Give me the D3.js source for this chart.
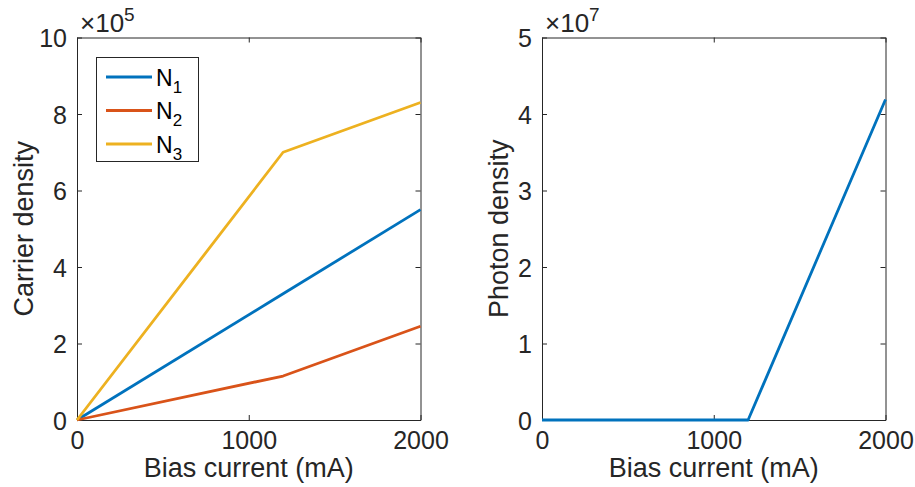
<!DOCTYPE html>
<html><head><meta charset="utf-8">
<script src="https://cdn.jsdelivr.net/npm/d3@7"></script>
<style>
html,body{margin:0;padding:0;background:#fff;}
svg{display:block;font-family:"Liberation Sans",Arial,Helvetica,sans-serif;}
</style></head>
<body><svg id="c" width="915" height="487"></svg>
<script>
// ---- data ----
const current = [0, 1200, 2000];
const n1 = [0, 3.3e5, 5.5e5];
const n2 = [0, 1.15e5, 2.45e5];
const n3 = [0, 7.0e5, 8.3e5];
const photon = [0, 0, 4.19e7];
const xTicks = [0, 1000, 2000];
const yTicksLeft = [0, 2, 4, 6, 8, 10];
const yTicksRight = [0, 1, 2, 3, 4, 5];
const seriesNames = ["N1", "N2", "N3"];
const colors = ["#0072BD", "#D95319", "#EDB120"];

const svg = d3.select("#c");
const ink = "#262626";

function panel(x0, x1, yMax, scaleExp, yTicks, yLabel, labelOff, lines) {
  const top = 37.5, bottom = 420;
  const x = d3.scaleLinear().domain([0, 2000]).range([x0, x1]);
  const y = d3.scaleLinear().domain([0, yMax]).range([bottom, top]);
  const g = svg.append("g");
  const tl = 5;
  const ax = g.append("g").attr("transform", `translate(0,${bottom})`)
    .call(d3.axisBottom(x).tickValues(xTicks).tickSizeInner(-tl).tickSizeOuter(0).tickPadding(11).tickFormat(d3.format("d")));
  const axT = g.append("g").attr("transform", `translate(0,${top})`)
    .call(d3.axisTop(x).tickValues(xTicks).tickSizeInner(-tl).tickSizeOuter(0).tickFormat(""));
  const ay = g.append("g").attr("transform", `translate(${x0},0)`)
    .call(d3.axisLeft(y).tickValues(yTicks).tickSizeInner(-tl).tickSizeOuter(0).tickPadding(10).tickFormat(d3.format("d")));
  const ayR = g.append("g").attr("transform", `translate(${x1},0)`)
    .call(d3.axisRight(y).tickValues(yTicks).tickSizeInner(-tl).tickSizeOuter(0).tickFormat(""));
  [ax, axT, ay, ayR].forEach(a => {
    a.selectAll("path").attr("stroke", ink).attr("stroke-width", 1);
    a.selectAll("line").attr("stroke", ink).attr("stroke-width", 1);
    a.selectAll("text").attr("fill", ink).attr("font-size", 25).attr("font-family", "Liberation Sans, Arial, sans-serif");
  });
  ax.selectAll("text").attr("dy", "0.71em");
  ay.selectAll("text").attr("dy", "0.36em");
  const line = d3.line().x(d => x(d[0])).y(d => y(d[1]));
  lines.forEach((ln) => {
    g.append("path").datum(current.map((c, k) => [c, ln.values[k] / Math.pow(10, scaleExp)]))
      .attr("d", line).attr("fill", "none").attr("stroke", ln.color)
      .attr("stroke-width", 2.8).attr("stroke-linejoin", "round");
  });
  const ex = g.append("text").attr("x", x0 + 3).attr("y", 32).attr("fill", ink).attr("font-size", 26);
  ex.append("tspan").text("\u00d710");
  ex.append("tspan").attr("font-size", 19).attr("dy", -11).text(String(scaleExp));
  g.append("text").attr("x", (x0 + x1) / 2).attr("y", 477).attr("text-anchor", "middle")
    .attr("fill", ink).attr("font-size", 27).text("Bias current (mA)");
  g.append("text").attr("transform", `translate(${x0 - labelOff},${(top + bottom) / 2}) rotate(-90)`)
    .attr("text-anchor", "middle").attr("fill", ink).attr("font-size", 27).text(yLabel);
  return {x, y, g};
}

panel(77, 420.5, 10, 5, yTicksLeft, "Carrier density", 44,
  [{values: n1, color: colors[0]}, {values: n2, color: colors[1]}, {values: n3, color: colors[2]}]);
panel(542, 885.5, 5, 7, yTicksRight, "Photon density", 34,
  [{values: photon, color: colors[0]}]);

// legend
const lg = svg.append("g");
lg.append("rect").attr("x", 96.5).attr("y", 57.5).attr("width", 102).attr("height", 104)
  .attr("fill", "#fff").attr("stroke", ink).attr("stroke-width", 1);
const legY = [77, 110.5, 144];
seriesNames.forEach((nm, i) => {
  lg.append("line").attr("x1", 106).attr("x2", 152).attr("y1", legY[i]).attr("y2", legY[i])
    .attr("stroke", colors[i]).attr("stroke-width", 2.8);
  const t = lg.append("text").attr("x", 156).attr("y", legY[i] + 8.5).attr("fill", "#000").attr("font-size", 23);
  t.append("tspan").text(nm[0]);
  t.append("tspan").attr("font-size", 17).attr("dy", 7).text(nm.slice(1));
});
</script></body></html>
